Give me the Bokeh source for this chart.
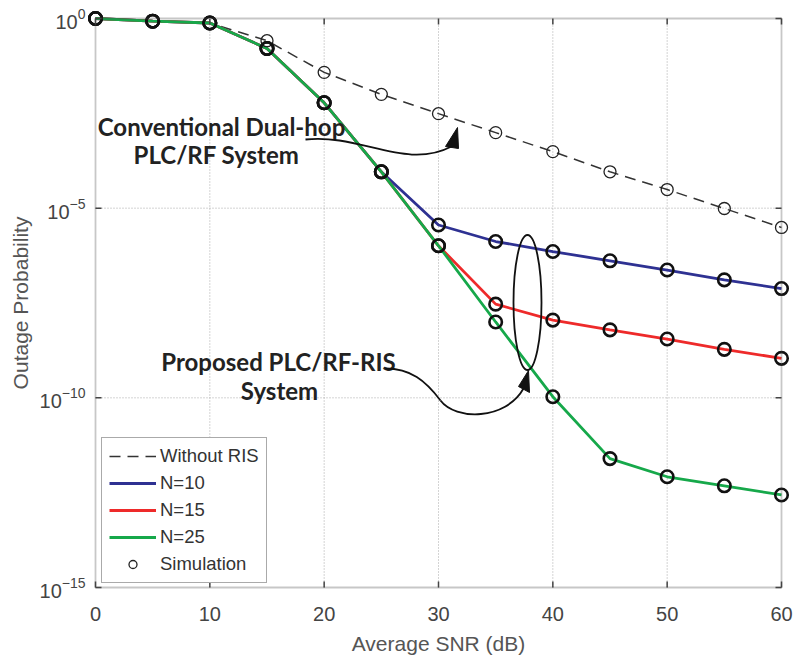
import math
from bokeh.plotting import figure
from bokeh.models import (Range1d, LinearScale, FixedTicker, Legend, LegendItem,
                          BoxAnnotation)
from bokeh.embed import file_html
from bokeh.resources import INLINE
from bokeh.core.properties import value

# ---------------- data ----------------
snr_db = [0, 5, 10, 15, 20, 25, 30, 35, 40, 45, 50, 55, 60]
p_without_ris = [1.0, 0.87, 0.76, 0.26, 3.8e-2, 1.0e-2, 3.1e-3, 9.8e-4, 3.1e-4,
                 9.1e-5, 3.1e-5, 9.8e-6, 3.1e-6]
p_n10 = [1.0, 0.85, 0.76, 0.162, 6.0e-3, 9.1e-5, 3.6e-6, 1.32e-6, 7.2e-7,
         4.1e-7, 2.34e-7, 1.29e-7, 7.6e-8]
p_n15 = [1.0, 0.85, 0.76, 0.162, 6.0e-3, 9.1e-5, 1.02e-6, 2.95e-8, 1.12e-8,
         6.2e-9, 3.55e-9, 1.9e-9, 1.1e-9]
p_n25 = [1.0, 0.85, 0.76, 0.162, 6.0e-3, 9.1e-5, 1.02e-6, 1.0e-8, 1.07e-10,
         2.5e-12, 8.3e-13, 4.8e-13, 2.75e-13]

x_ticks = [0, 10, 20, 30, 40, 50, 60]
y_ticks = [1e-15, 1e-10, 1e-5, 1.0]
x_grid = [10, 20, 30, 40, 50]
y_grid = [1e-5, 1e-10]

labels = ["Without RIS", "N=10", "N=15", "N=25", "Simulation"]
annot_conv = ["Conventional Dual-hop", "PLC/RF System"]
annot_prop = ["Proposed PLC/RF-RIS", "System"]

BLUE = "#2e3192"
RED = "#ee2a2a"
GREEN = "#16a84a"
FRAME = "#444444"
TICK_FONT = "Liberation Sans"

# ---------------- geometry ----------------
X0, X1 = 0, 60
Y0, Y1 = 1e-15, 1.0
BOX_L, BOX_R, BOX_T, BOX_B = 95, 781, 18, 587      # box of the axes, in pixels
PAD = 8                                            # room so edge markers are not clipped
px_per_x = (BOX_R - BOX_L) / (X1 - X0)
px_per_dec = (BOX_B - BOX_T) / (math.log10(Y1) - math.log10(Y0))
xpad = PAD / px_per_x
ypad = PAD / px_per_dec
FL, FR, FT, FB = BOX_L - PAD, BOX_R + PAD, BOX_T - PAD, BOX_B + PAD

p = figure(width=793, height=659, output_backend="svg", toolbar_location=None,
           x_range=Range1d(X0 - xpad, X1 + xpad),
           y_range=Range1d(10 ** (math.log10(Y0) - ypad), 10 ** (math.log10(Y1) + ypad)),
           y_axis_type="log",
           min_border_left=FL, min_border_right=793 - FR, min_border_top=FT,
           min_border_bottom=659 - FB, background_fill_color="white",
           border_fill_color="white")
p.outline_line_color = None
p.grid.visible = False

# overlay coordinate system for annotations (reference-pixel space)
p.extra_x_ranges = {"px": Range1d(FL, FR)}
p.extra_y_ranges = {"py": Range1d(FB, FT)}
p.extra_x_scales = {"px": LinearScale()}
p.extra_y_scales = {"py": LinearScale()}

# axes: labels only; ticks and box drawn in data space
for ax in (p.xaxis[0], p.yaxis[0]):
    ax.major_tick_in = 0
    ax.major_tick_out = 0
    ax.minor_tick_line_color = None
    ax.axis_line_color = None
    ax.major_tick_line_color = None
    ax.major_label_text_font = TICK_FONT
    ax.major_label_text_font_size = "20px"
    ax.major_label_text_color = "#444444"
    ax.axis_label_text_font = TICK_FONT
    ax.axis_label_text_font_size = "21px"
    ax.axis_label_text_font_style = "normal"
    ax.axis_label_text_color = "#555555"

p.xaxis.ticker = FixedTicker(ticks=x_ticks)
p.yaxis.ticker = FixedTicker(ticks=y_ticks)
p.xaxis.axis_label = "Average SNR (dB)"
p.yaxis.axis_label = "Outage Probability"
p.xaxis.major_label_standoff = 11
p.xaxis.axis_label_standoff = 8
p.yaxis.major_label_standoff = 2
p.yaxis.axis_label_standoff = 5

# grid (dotted)
gkw = dict(line_color="#a8a8a8", line_width=1, line_dash="1 2")
p.segment(x0=x_grid, y0=[Y0] * len(x_grid), x1=x_grid, y1=[Y1] * len(x_grid), **gkw)
p.segment(x0=[X0] * len(y_grid), y0=y_grid, x1=[X1] * len(y_grid), y1=y_grid, **gkw)

# curves
r_wo = p.line(snr_db, p_without_ris, line_color="#333333", line_width=1.5, line_dash="11 7")
r10 = p.line(snr_db, p_n10, line_color=BLUE, line_width=2.8)
r15 = p.line(snr_db, p_n15, line_color=RED, line_width=2.8)
r25 = p.line(snr_db, p_n25, line_color=GREEN, line_width=2.8)

r_sim = p.scatter(snr_db, p_without_ris, marker="circle", size=12, fill_color=None,
                  line_color="#222222", line_width=1.3)
for series in (p_n10, p_n15, p_n25):
    p.scatter(snr_db, series, marker="circle", size=12.5, fill_color=None,
              line_color="#111111", line_width=2.6)

# inward ticks on all four sides (6 px long)
tx = 6 / px_per_x
ty = 10 ** (6 / px_per_dec)
tkw = dict(line_color=FRAME, line_width=1.5)
n = len(x_ticks)
p.segment(x0=x_ticks, y0=[Y0] * n, x1=x_ticks, y1=[Y0 * ty] * n, **tkw)
p.segment(x0=x_ticks, y0=[Y1] * n, x1=x_ticks, y1=[Y1 / ty] * n, **tkw)
m = len(y_ticks)
p.segment(x0=[X0] * m, y0=y_ticks, x1=[X0 + tx] * m, y1=y_ticks, **tkw)
p.segment(x0=[X1] * m, y0=y_ticks, x1=[X1 - tx] * m, y1=y_ticks, **tkw)

# axes box
p.add_layout(BoxAnnotation(left=X0, right=X1, bottom=Y0, top=Y1, fill_alpha=0,
                           fill_color=None, line_color=FRAME, line_width=1.8))

# legend
legend = Legend(items=[LegendItem(label=labels[0], renderers=[r_wo]),
                       LegendItem(label=labels[1], renderers=[r10]),
                       LegendItem(label=labels[2], renderers=[r15]),
                       LegendItem(label=labels[3], renderers=[r25]),
                       LegendItem(label=labels[4], renderers=[r_sim])],
                location=(101 - FL, FB - 583), glyph_width=47, glyph_height=20,
                label_height=20, spacing=5, padding=7, margin=0, label_standoff=4,
                label_text_font=TICK_FONT, label_text_font_size="18.5px",
                label_text_color="#333333", border_line_color="#555555",
                border_line_width=1.3, background_fill_alpha=1.0)
p.add_layout(legend, "center")

# annotations (reference pixel space)
kw = dict(x_range_name="px", y_range_name="py")
tkw2 = dict(text_font=value("Lato"), text_font_style="bold", text_font_size="24px",
            text_align="center", text_baseline="middle", text_color="#222222")
p.text(x=[221, 216], y=[125.5, 153.5], text=annot_conv, **tkw2, **kw)
p.text(x=[278, 279], y=[360.5, 390], text=annot_prop, **tkw2, **kw)

p.bezier(x0=[305], y0=[139], cx0=[360], cy0=[133], cx1=[405], cy1=[170],
         x1=[451], y1=[146], line_color="#111111", line_width=1.8, **kw)
p.bezier(x0=[385, 440], y0=[368, 400], cx0=[410, 455], cy0=[368, 420],
         cx1=[425, 505], cy1=[380, 420], x1=[440, 523], y1=[400, 388],
         line_color="#111111", line_width=1.8, **kw)
p.patches(xs=[[445, 457, 458], [518, 528, 529]], ys=[[146, 127, 148], [386, 370, 392]],
          fill_color="#111111", line_color="#111111", **kw)
p.ellipse(x=[527], y=[302], width=28, height=135, fill_color=None,
          line_color="#111111", line_width=1.8, **kw)

open("out.html", "w").write(file_html(p, INLINE))
